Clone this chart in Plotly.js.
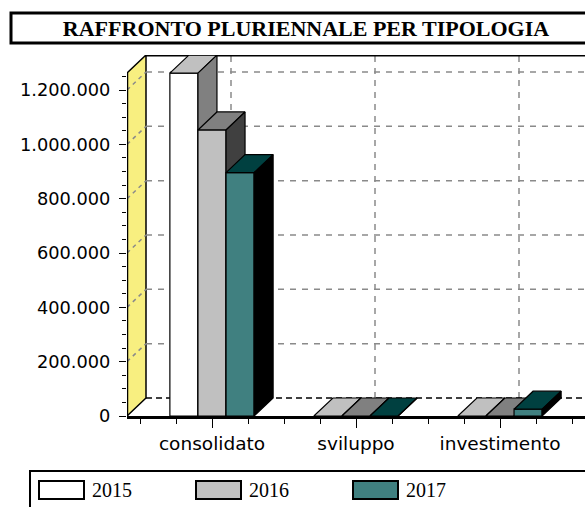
<!DOCTYPE html>
<html>
<head>
<meta charset="utf-8">
<script src="https://cdn.plot.ly/plotly-3.0.1.min.js"></script>
<style>
html,body{margin:0;padding:0;background:#fff;overflow:hidden;}
#chart{width:610px;height:507px;}
</style>
</head>
<body>
<div id="chart"></div>
<script>
// ---- data ----
const categories = ['consolidato', 'sviluppo', 'investimento'];
const years = ['2015', '2016', '2017'];
const values2015 = [1262000, 0, 0];
const values2016 = [1053000, 0, 0];
const values2017 = [896000, 0, 25000];
const yTickVals = [0, 200000, 400000, 600000, 800000, 1000000, 1200000];
const chartTitle = 'RAFFRONTO PLURIENNALE PER TIPOLOGIA';

// ---- styles ----
const frontColors = ['#FFFFFF', '#C0C0C0', '#408080'];
const topColors   = ['#C0C0C0', '#808080', '#004040'];
const sideColors  = ['#808080', '#404040', '#000000'];
const wallColor = '#F8EF80';
const gridColor = '#8A8A8A';

// ---- geometry (pixel layout of plot area) ----
const W = 610, H = 507;
const L = 127, R = 605, T = 55, B = 416;
const PW = R - L, PH = B - T;
const pxPerCat = 144;
const pxPerVal = 54.33 / 200000;
const xmin = -(212 - L) / pxPerCat;
const xmax = xmin + PW / pxPerCat;
const ymax = PH / pxPerVal;
const dx = 19 / pxPerCat;        // depth offset (x, data units)
const dy = 18 / pxPerVal;        // depth offset (y, data units)
const bw = 0.195;                // bar width
const groupStart = -1.5 * bw;

const series = [values2015, values2016, values2017];
const idx = categories.map((c, i) => i);

const axesNames = [['x', 'y'], ['x2', 'y2'], ['x3', 'y3']];
const traces = [];
series.forEach((vals, s) => {
  const [xa, ya] = axesNames[s];
  traces.push({
    type: 'bar', x: idx, y: vals, width: bw, offset: groupStart + s * bw,
    marker: {color: frontColors[s], line: {color: '#000', width: 1.2}},
    xaxis: xa, yaxis: ya, hoverinfo: 'skip', showlegend: false, name: years[s]
  });
  const tx = [], ty = [], sx = [], sy = [];
  vals.forEach((v, i) => {
    const x0 = i + groupStart + s * bw, x1 = x0 + bw;
    tx.push(x0, x1, x1 + dx, x0 + dx, x0, null);
    ty.push(v, v, v + dy, v + dy, v, null);
    sx.push(x1, x1 + dx, x1 + dx, x1, x1, null);
    sy.push(0, dy, v + dy, v, 0, null);
  });
  traces.push({
    type: 'scatter', mode: 'lines', x: tx, y: ty, fill: 'toself',
    fillcolor: topColors[s], line: {color: '#000', width: 1.2},
    xaxis: xa, yaxis: ya, hoverinfo: 'skip', showlegend: false
  });
  traces.push({
    type: 'scatter', mode: 'lines', x: sx, y: sy, fill: 'toself',
    fillcolor: sideColors[s], line: {color: '#000', width: 1.2},
    xaxis: xa, yaxis: ya, hoverinfo: 'skip', showlegend: false
  });
});

// ---- background 3D box shapes ----
const shapes = [];
const bl = {xref: 'x', yref: 'y', layer: 'below'};
shapes.push(Object.assign({type: 'rect', x0: xmin + dx, x1: xmax, y0: dy, y1: ymax,
  fillcolor: '#FFFFFF', line: {width: 0}}, bl));
shapes.push(Object.assign({type: 'path',
  path: `M${xmin},0 L${xmax},0 L${xmax},${dy} L${xmin + dx},${dy} Z`,
  fillcolor: '#FFFFFF', line: {width: 0}}, bl));
shapes.push(Object.assign({type: 'path',
  path: `M${xmin},0 L${xmin},${ymax - dy} L${xmin + dx},${ymax} L${xmin + dx},${dy} Z`,
  fillcolor: wallColor, line: {color: '#000', width: 1.5}}, bl));
yTickVals.forEach(v => {
  if (v === 0) return;
  shapes.push(Object.assign({type: 'line', x0: xmin + dx, x1: xmax, y0: v + dy, y1: v + dy,
    line: {color: gridColor, width: 1.5, dash: '6px,6px'}}, bl));
  shapes.push(Object.assign({type: 'line', x0: xmin, x1: xmin + dx, y0: v, y1: v + dy,
    line: {color: gridColor, width: 1.5, dash: '4px,4px'}}, bl));
});
idx.forEach(i => {
  shapes.push(Object.assign({type: 'line', x0: i + dx, x1: i + dx, y0: dy, y1: ymax,
    line: {color: gridColor, width: 1.5, dash: '6px,6px'}}, bl));
});
shapes.push(Object.assign({type: 'line', x0: xmin + dx, x1: xmax, y0: dy, y1: dy,
  line: {color: '#000', width: 1.5, dash: '6px,4px'}}, bl));
shapes.push(Object.assign({type: 'line', x0: xmin + dx, x1: xmax, y0: ymax, y1: ymax,
  line: {color: '#000', width: 3}}, bl));
shapes.push(Object.assign({type: 'line', x0: xmin, x1: xmin, y0: 0, y1: ymax - dy,
  line: {color: '#000', width: 2.5}}, bl));

// ---- helpers for pixel placement (paper coords) ----
const px2x = px => (px - L) / PW;
const py2y = py => (B - py) / PH;

// title box
shapes.push({type: 'rect', xref: 'paper', yref: 'paper', layer: 'above',
  x0: px2x(11), x1: px2x(602), y0: py2y(43), y1: py2y(13),
  line: {color: '#000', width: 3}, fillcolor: 'rgba(0,0,0,0)'});

// legend box + swatches
shapes.push({type: 'rect', xref: 'paper', yref: 'paper', layer: 'above',
  x0: px2x(30), x1: px2x(640), y0: py2y(540), y1: py2y(471),
  line: {color: '#000', width: 2}, fillcolor: 'rgba(0,0,0,0)'});
const annotations = [];
const legendX = [39, 196, 353];
years.forEach((yr, s) => {
  shapes.push({type: 'rect', xref: 'paper', yref: 'paper', layer: 'above',
    x0: px2x(legendX[s]), x1: px2x(legendX[s] + 45), y0: py2y(499), y1: py2y(481),
    fillcolor: frontColors[s], line: {color: '#000', width: 2}});
  annotations.push({xref: 'paper', yref: 'paper', x: px2x(legendX[s] + 51), y: py2y(490),
    xanchor: 'left', yanchor: 'middle', showarrow: false, text: yr,
    font: {family: 'Liberation Serif', size: 20, color: '#000'}});
});

const minorX = [];
for (let k = Math.ceil(xmin * 4); k <= Math.floor(xmax * 4); k++) {
  if (k % 4 !== 0) minorX.push(k / 4);
}
const minorY = [];
for (let v = 50000; v <= 1250000; v += 50000) {
  if (v % 200000 !== 0) minorY.push(v);
}

const hidden = {visible: false, fixedrange: true};
const layout = {
  width: W, height: H,
  margin: {l: L, r: W - R, t: T, b: H - B, pad: 0},
  paper_bgcolor: '#FFFFFF', plot_bgcolor: '#FFFFFF',
  separators: ',.',
  showlegend: false,
  barmode: 'overlay',
  title: {text: chartTitle, xref: 'container', yref: 'container',
    x: 306 / W, xanchor: 'center', y: 1 - 28 / H, yanchor: 'middle',
    font: {family: 'Liberation Serif', size: 22, weight: 'bold', color: '#000'}},
  xaxis: {range: [xmin, xmax], tickmode: 'array', tickvals: idx, ticktext: categories,
    ticks: 'outside', ticklen: 9, tickcolor: '#000', tickwidth: 1,
    showline: true, linecolor: '#000', linewidth: 2.5, showgrid: false, zeroline: false,
    tickfont: {family: 'DejaVu Sans', size: 18.5, color: '#000'},
    minor: {tickmode: 'array', tickvals: minorX, ticks: 'outside', ticklen: 5,
      tickcolor: '#000', showgrid: false},
    fixedrange: true},
  yaxis: {range: [0, ymax], tickmode: 'array', tickvals: yTickVals, tickformat: ',d',
    ticks: 'outside', ticklen: 7, tickcolor: '#000', tickwidth: 1,
    ticklabelstandoff: 5,
    showline: false, showgrid: false, zeroline: false,
    tickfont: {family: 'DejaVu Sans', size: 17.8, color: '#000'},
    minor: {tickmode: 'array', tickvals: minorY, ticks: 'outside', ticklen: 4,
      tickcolor: '#000', showgrid: false},
    fixedrange: true},
  xaxis2: Object.assign({overlaying: 'x', range: [xmin, xmax], anchor: 'y2'}, hidden),
  yaxis2: Object.assign({overlaying: 'y', range: [0, ymax], anchor: 'x2'}, hidden),
  xaxis3: Object.assign({overlaying: 'x', range: [xmin, xmax], anchor: 'y3'}, hidden),
  yaxis3: Object.assign({overlaying: 'y', range: [0, ymax], anchor: 'x3'}, hidden),
  shapes: shapes,
  annotations: annotations
};

Plotly.newPlot('chart', traces, layout, {displayModeBar: false, staticPlot: true});
</script>
</body>
</html>
